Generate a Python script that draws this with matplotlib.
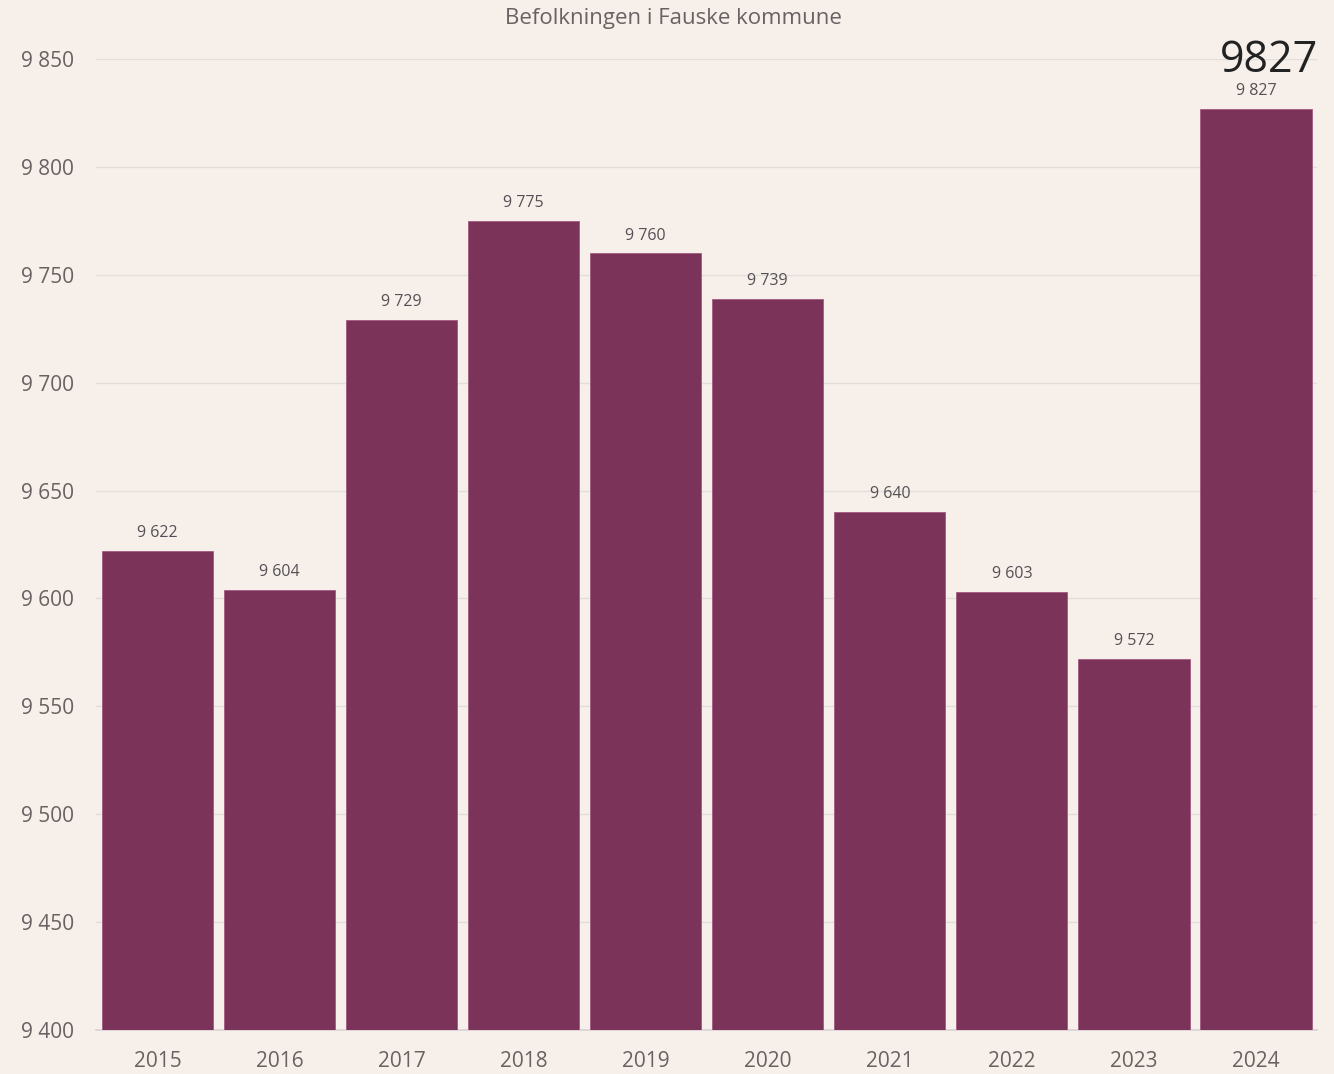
import matplotlib
matplotlib.use('Agg')
import matplotlib.pyplot as plt

years = ['2015', '2016', '2017', '2018', '2019', '2020', '2021', '2022', '2023', '2024']
population = [9622, 9604, 9729, 9775, 9760, 9739, 9640, 9603, 9572, 9827]
yticks = [9400, 9450, 9500, 9550, 9600, 9650, 9700, 9750, 9800, 9850]

bg = '#f7efe9'
bar_color = '#7b3359'
text_color = '#6b6163'

plt.rcParams['font.family'] = ['Open Sans', 'DejaVu Sans']

def fmt(v):
    return '{:,}'.format(v).replace(',', ' ')

fig = plt.figure(figsize=(13.34, 10.74), dpi=100, facecolor=bg)
ax = fig.add_axes([0.0723, 0.041, 0.915, 0.904], facecolor=bg)

x = range(len(years))
bars = ax.bar(x, population, width=0.91, color=bar_color,
              edgecolor='#a35a80', linewidth=0.6, zorder=3)

for i, v in enumerate(population):
    ax.annotate(fmt(v), (i, v), xytext=(0, 7), textcoords='offset points',
                ha='center', va='bottom', fontsize=11.5, color='#555055')

ax.set_ylim(9400, 9850)
ax.set_xlim(-0.5, len(years) - 0.5)
ax.set_yticks(yticks)
ax.set_yticklabels([fmt(t) for t in yticks])
ax.set_xticks(list(x))
ax.set_xticklabels(years)
ax.tick_params(axis='y', length=0, pad=16, labelsize=15, colors=text_color)
ax.tick_params(axis='x', length=0, pad=15, labelsize=15, colors=text_color)
ax.grid(axis='y', color='#e2dedb', linewidth=1.0, zorder=0)
for s in ['top', 'right', 'left']:
    ax.spines[s].set_visible(False)
ax.spines['bottom'].set_color('#d8d4d4')
ax.spines['bottom'].set_linewidth(1.2)

fig.text(0.505, 0.983, 'Befolkningen i Fauske kommune', ha='center', va='center',
         fontsize=16, color=text_color)
fig.text(0.988, 0.943, fmt(population[-1]).replace(' ', ''), ha='right', va='center',
         fontsize=31, color='#222222')

fig.savefig('out.png', dpi=100, facecolor=bg)
